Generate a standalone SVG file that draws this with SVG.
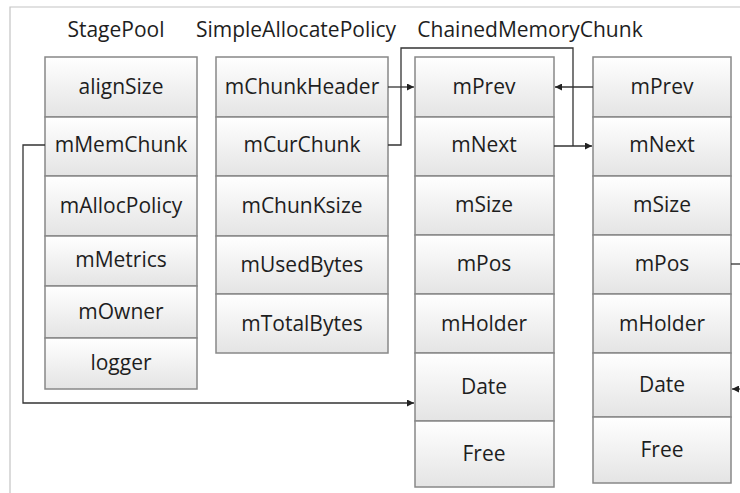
<svg xmlns="http://www.w3.org/2000/svg" width="740" height="493" viewBox="0 0 740 493">
<defs>
<linearGradient id="cg" x1="0" y1="0" x2="0" y2="1">
<stop offset="0" stop-color="#ffffff"/>
<stop offset="1" stop-color="#e4e4e4"/>
</linearGradient>
<marker id="ah" viewBox="0 0 8 8" refX="8" refY="4" markerWidth="7" markerHeight="7" markerUnits="userSpaceOnUse" orient="auto">
<path d="M0,0 L8,4 L0,8 z" fill="#222"/>
</marker>
</defs>
<style>
.c{fill:url(#cg);stroke:#888;stroke-width:1.5}
.t{font-family:"Open Sans","Liberation Sans",sans-serif;font-size:21px;fill:#1e1e1e;text-anchor:middle}
.h{font-family:"Open Sans","Liberation Sans",sans-serif;font-size:21px;fill:#1e1e1e;text-anchor:middle}
.l{fill:none;stroke:#333;stroke-width:1.3}
</style>
<rect width="740" height="493" fill="#fff"/>
<path d="M10,493 V7 H740" fill="none" stroke="#c4c4c4" stroke-width="1.2"/>
<g id="titles">
<text class="h" x="116" y="37">StagePool</text>
<text class="h" x="296" y="37">SimpleAllocatePolicy</text>
<text class="h" x="530" y="37">ChainedMemoryChunk</text>
</g>
<g id="stagepool">
<rect class="c" x="45" y="57" width="152" height="60"/><text class="t" x="121" y="94">alignSize</text>
<rect class="c" x="45" y="117" width="152" height="59"/><text class="t" x="121" y="152">mMemChunk</text>
<rect class="c" x="45" y="176" width="152" height="60"/><text class="t" x="121" y="213">mAllocPolicy</text>
<rect class="c" x="45" y="236" width="152" height="50"/><text class="t" x="121" y="267">mMetrics</text>
<rect class="c" x="45" y="286" width="152" height="52"/><text class="t" x="121" y="319">mOwner</text>
<rect class="c" x="45" y="338" width="152" height="51"/><text class="t" x="121" y="370">logger</text>
</g>
<g id="policy">
<rect class="c" x="216" y="57" width="172" height="60"/><text class="t" x="302" y="94">mChunkHeader</text>
<rect class="c" x="216" y="117" width="172" height="59"/><text class="t" x="302" y="152">mCurChunk</text>
<rect class="c" x="216" y="176" width="172" height="60"/><text class="t" x="302" y="213">mChunKsize</text>
<rect class="c" x="216" y="236" width="172" height="58"/><text class="t" x="302" y="272">mUsedBytes</text>
<rect class="c" x="216" y="294" width="172" height="59"/><text class="t" x="302" y="331">mTotalBytes</text>
</g>
<g id="chunk1">
<rect class="c" x="415" y="57" width="139" height="60"/><text class="t" x="484" y="94">mPrev</text>
<rect class="c" x="415" y="117" width="139" height="59"/><text class="t" x="484" y="152">mNext</text>
<rect class="c" x="415" y="176" width="139" height="59"/><text class="t" x="484" y="212">mSize</text>
<rect class="c" x="415" y="235" width="139" height="59"/><text class="t" x="484" y="271">mPos</text>
<rect class="c" x="415" y="294" width="139" height="59"/><text class="t" x="484" y="331">mHolder</text>
<rect class="c" x="415" y="353" width="139" height="68"/><text class="t" x="484" y="394">Date</text>
<rect class="c" x="415" y="421" width="139" height="66"/><text class="t" x="484" y="461">Free</text>
</g>
<g id="chunk2">
<rect class="c" x="593" y="57" width="138" height="60"/><text class="t" x="662" y="94">mPrev</text>
<rect class="c" x="593" y="117" width="138" height="59"/><text class="t" x="662" y="152">mNext</text>
<rect class="c" x="593" y="176" width="138" height="59"/><text class="t" x="662" y="212">mSize</text>
<rect class="c" x="593" y="235" width="138" height="59"/><text class="t" x="662" y="271">mPos</text>
<rect class="c" x="593" y="294" width="138" height="59"/><text class="t" x="662" y="331">mHolder</text>
<rect class="c" x="593" y="353" width="138" height="64"/><text class="t" x="662" y="392">Date</text>
<rect class="c" x="593" y="417" width="138" height="66"/><text class="t" x="662" y="457">Free</text>
</g>
<g id="connectors">
<path class="l" d="M388,87 H414" marker-end="url(#ah)"/>
<path class="l" d="M388,145 H401 V48 H573 V146"/>
<path class="l" d="M554,146 H592" marker-end="url(#ah)"/>
<path class="l" d="M593,87 H555" marker-end="url(#ah)"/>
<path class="l" d="M45,145 H23 V403 H414" marker-end="url(#ah)"/>
<path class="l" d="M731,264 H740"/>
<path class="l" d="M740,389 H732" marker-end="url(#ah)"/>
</g>
</svg>
